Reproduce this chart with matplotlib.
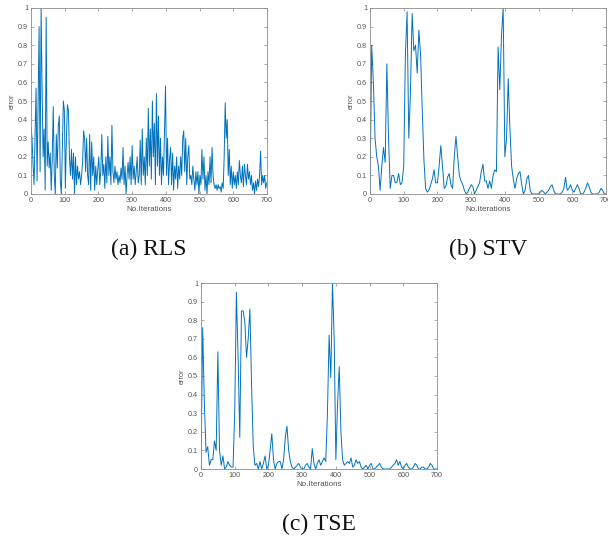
import numpy as np
import matplotlib
matplotlib.use("Agg")
import matplotlib.pyplot as plt

# error curves
# RLS sampled every 3 iterations, STV / TSE every 5 iterations
rls = [0.36, 0.30, 0.16, 0.05, 0.30, 0.57, 0.07, 0.50, 0.90, 0.12,
       1.00, 0.55, 0.20, 0.35, 0.02, 0.95, 0.15, 0.28, 0.14, 0.22,
       0.02, 0.20, 0.47, 0.10, 0.00, 0.32, 0.14, 0.37, 0.42, 0.07,
       0.00, 0.25, 0.50, 0.45, 0.03, 0.30, 0.48, 0.45, 0.20, 0.10,
       0.24, 0.08, 0.22, 0.00, 0.20, 0.05, 0.15, 0.08, 0.12, 0.05,
       0.10, 0.17, 0.34, 0.30, 0.12, 0.30, 0.10, 0.05, 0.32, 0.02,
       0.28, 0.10, 0.20, 0.02, 0.15, 0.05, 0.13, 0.20, 0.05, 0.12,
       0.32, 0.10, 0.16, 0.03, 0.20, 0.06, 0.31, 0.10, 0.20, 0.05,
       0.37, 0.12, 0.06, 0.15, 0.08, 0.12, 0.05, 0.10, 0.06, 0.14,
       0.08, 0.25, 0.05, 0.15, 0.00, 0.10, 0.17, 0.08, 0.20, 0.05,
       0.26, 0.08, 0.15, 0.05, 0.12, 0.20, 0.06,
       0.10, 0.29, 0.05, 0.35, 0.10, 0.20, 0.05, 0.30, 0.10, 0.46,
       0.15, 0.35, 0.08, 0.50, 0.20, 0.38, 0.05, 0.54, 0.15, 0.42,
       0.10, 0.30, 0.05, 0.20, 0.10, 0.35, 0.58, 0.10, 0.30, 0.05,
       0.18, 0.25, 0.05, 0.22, 0.02, 0.15, 0.08, 0.20, 0.03, 0.15,
       0.08, 0.20, 0.10, 0.30, 0.34, 0.12, 0.30, 0.05, 0.20, 0.26,
       0.08, 0.10, 0.05, 0.15, 0.08, 0.02, 0.12, 0.05, 0.12, 0.00,
       0.10, 0.05, 0.24, 0.08, 0.20, 0.02, 0.10, 0.00, 0.12, 0.05,
       0.20, 0.06, 0.25, 0.10, 0.05, 0.03, 0.05, 0.02, 0.05, 0.03,
       0.04, 0.01, 0.06, 0.03, 0.20, 0.49, 0.30, 0.40, 0.10, 0.24,
       0.05, 0.15, 0.03, 0.12, 0.05, 0.10, 0.03, 0.12, 0.05, 0.18,
       0.10, 0.06, 0.15, 0.04, 0.16, 0.10, 0.05, 0.16, 0.08, 0.12,
       0.05, 0.10, 0.02, 0.06, 0.00, 0.07, 0.02, 0.08, 0.04, 0.10,
       0.23, 0.05, 0.10, 0.06, 0.10, 0.03, 0.06]

stv = [0.00, 0.80, 0.60, 0.30, 0.20, 0.15, 0.02, 0.15, 0.25, 0.17,
       0.70, 0.30, 0.03, 0.10, 0.10, 0.06, 0.065, 0.11, 0.05, 0.06,
       0.15, 0.75, 0.98, 0.30, 0.55, 0.97, 0.77, 0.80, 0.65, 0.88,
       0.75, 0.45, 0.18, 0.03, 0.01, 0.02, 0.05, 0.08, 0.13, 0.06,
       0.06, 0.15, 0.26, 0.15, 0.03, 0.04, 0.09, 0.11, 0.05, 0.03,
       0.20, 0.31, 0.20, 0.10, 0.07, 0.05, 0.02, 0.00, 0.01, 0.03,
       0.05, 0.04, 0.00, 0.02, 0.04, 0.06, 0.12, 0.16, 0.07, 0.07,
       0.03, 0.07, 0.03, 0.10, 0.13, 0.12, 0.79, 0.56, 0.85, 1.00,
       0.20, 0.30, 0.62, 0.35, 0.15, 0.08, 0.03, 0.08, 0.11, 0.12,
       0.05, 0.00, 0.02, 0.08, 0.10, 0.02, 0.00, 0.00, 0.00, 0.00,
       0.00, 0.01, 0.02, 0.01, 0.00, 0.01, 0.02, 0.04, 0.05, 0.02,
       0.00, 0.00, 0.00, 0.00, 0.01, 0.03, 0.09, 0.02, 0.03, 0.05,
       0.02, 0.01, 0.03, 0.05, 0.03, 0.00, 0.00, 0.01, 0.03, 0.06,
       0.04, 0.01, 0.00, 0.00, 0.00, 0.00, 0.01, 0.03, 0.02, 0.00,
       0.00]

tse = [0.00, 0.76, 0.35, 0.09, 0.12, 0.02, 0.05, 0.05, 0.15, 0.10,
       0.63, 0.10, 0.02, 0.07, 0.00, 0.01, 0.04, 0.02, 0.01, 0.01,
       0.30, 0.95, 0.60, 0.17, 0.85, 0.85, 0.79, 0.60, 0.70, 0.86,
       0.45, 0.12, 0.02, 0.03, 0.00, 0.04, 0.00, 0.03, 0.07, 0.00,
       0.02, 0.10, 0.19, 0.05, 0.00, 0.03, 0.04, 0.04, 0.00, 0.05,
       0.17, 0.23, 0.10, 0.04, 0.01, 0.00, 0.01, 0.02, 0.03, 0.01,
       0.00, 0.00, 0.02, 0.03, 0.01, 0.00, 0.11, 0.03, 0.00, 0.03,
       0.05, 0.02, 0.04, 0.06, 0.04, 0.30, 0.72, 0.49, 1.00, 0.70,
       0.05, 0.35, 0.55, 0.20, 0.05, 0.02, 0.03, 0.04, 0.03, 0.06,
       0.01, 0.02, 0.05, 0.03, 0.04, 0.01, 0.00, 0.01, 0.02, 0.00,
       0.02, 0.03, 0.00, 0.00, 0.01, 0.02, 0.03, 0.01, 0.00, 0.00,
       0.00, 0.00, 0.00, 0.01, 0.02, 0.03, 0.05, 0.02, 0.04, 0.01,
       0.00, 0.02, 0.03, 0.01, 0.00, 0.00, 0.01, 0.03, 0.02, 0.00,
       0.00, 0.01, 0.01, 0.00, 0.00, 0.01, 0.03, 0.02, 0.00, 0.00,
       0.00]

captions = ["(a) RLS", "(b) STV", "(c) TSE"]
xticks = [0, 100, 200, 300, 400, 500, 600, 700]
yticks = [0, 0.1, 0.2, 0.3, 0.4, 0.5, 0.6, 0.7, 0.8, 0.9, 1]
ytick_labels = ["0", "0.1", "0.2", "0.3", "0.4", "0.5", "0.6", "0.7", "0.8", "0.9", "1"]

series = [(np.arange(len(rls)) * 3, rls),
          (np.arange(len(stv)) * 5, stv),
          (np.arange(len(tse)) * 5, tse)]

W, H = 608, 537
fig = plt.figure(figsize=(W / 100, H / 100), dpi=100)

# axes boxes in pixels: left, top, right, bottom
boxes = [(31, 8, 267, 194), (370, 8, 606, 194), (201, 283, 437, 469)]
line_col = "#0072BD"
frame_col = "#8c8c8c"
text_col = "#555555"

for (x, y), (l, t, r, b), cap in zip(series, boxes, captions):
    ax = fig.add_axes([l / W, 1 - b / H, (r - l) / W, (b - t) / H])
    ax.plot(x, y, color=line_col, lw=0.7)
    ax.set_xlim(0, 700)
    ax.set_ylim(0, 1)
    ax.set_xticks(xticks)
    ax.set_yticks(yticks)
    ax.set_yticklabels(ytick_labels)
    ax.tick_params(direction="in", length=2, width=0.5, top=True, right=True,
                   labelsize=5.2, colors=frame_col, labelcolor=text_col, pad=2)
    for lab in ax.get_xticklabels() + ax.get_yticklabels():
        lab.set_family("Liberation Sans")
    for s in ax.spines.values():
        s.set_color(frame_col)
        s.set_linewidth(0.6)
    ax.set_xlabel("No.Iterations", fontsize=5.8, family="Liberation Sans",
                  color=text_col, labelpad=1.5)
    ax.set_ylabel("error", fontsize=5.2, family="Liberation Sans",
                  color=text_col, labelpad=2)
    cx = (l + r) / 2 / W
    fig.text(cx, 1 - (b + 55) / H, cap, ha="center", va="center",
             fontsize=17, family="Liberation Serif", color="#111111")

fig.savefig("out.png", dpi=100)
